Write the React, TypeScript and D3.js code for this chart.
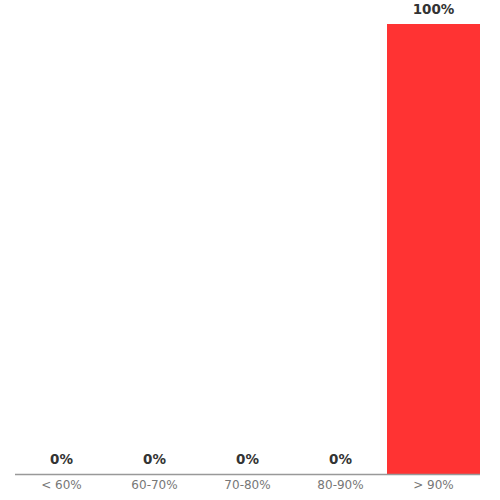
import * as d3 from 'd3';

const categories = ['< 60%', '60-70%', '70-80%', '80-90%', '> 90%'];
const values = [0, 0, 0, 0, 100];

const width = 500;
const height = 500;
const margin = { top: 24, right: 20, bottom: 26, left: 15 };

function App() {
  const innerW = width - margin.left - margin.right;
  const innerH = height - margin.top - margin.bottom;

  const x = d3.scaleBand().domain(categories).range([0, innerW]).padding(0);
  const y = d3.scaleLinear().domain([0, 100]).range([innerH, 0]);

  return (
    <svg
      width={width}
      height={height}
      style={{ position: 'absolute', left: 0, top: 0, fontFamily: 'DejaVu Sans, sans-serif' }}
    >
      <g transform={`translate(${margin.left},${margin.top})`}>
        {categories.map((c, i) => (
          <rect
            key={c}
            x={x(c)}
            y={y(values[i])}
            width={x.bandwidth()}
            height={innerH - y(values[i])}
            fill="#ff3333"
          />
        ))}
        <line x1={0} x2={innerW} y1={innerH + 0.5} y2={innerH + 0.5} stroke="#999" strokeWidth={1.5} />
        {categories.map((c, i) => (
          <text
            key={`v-${c}`}
            x={(x(c) as number) + x.bandwidth() / 2}
            y={y(values[i]) - 10}
            textAnchor="middle"
            fontSize={13.5}
            fontWeight="bold"
            fill="#333"
          >
            {values[i]}%
          </text>
        ))}
        {categories.map((c) => (
          <text
            key={`t-${c}`}
            x={(x(c) as number) + x.bandwidth() / 2}
            y={innerH + 15}
            textAnchor="middle"
            fontSize={12}
            fill="#777"
          >
            {c}
          </text>
        ))}
      </g>
    </svg>
  );
}

export default App;
